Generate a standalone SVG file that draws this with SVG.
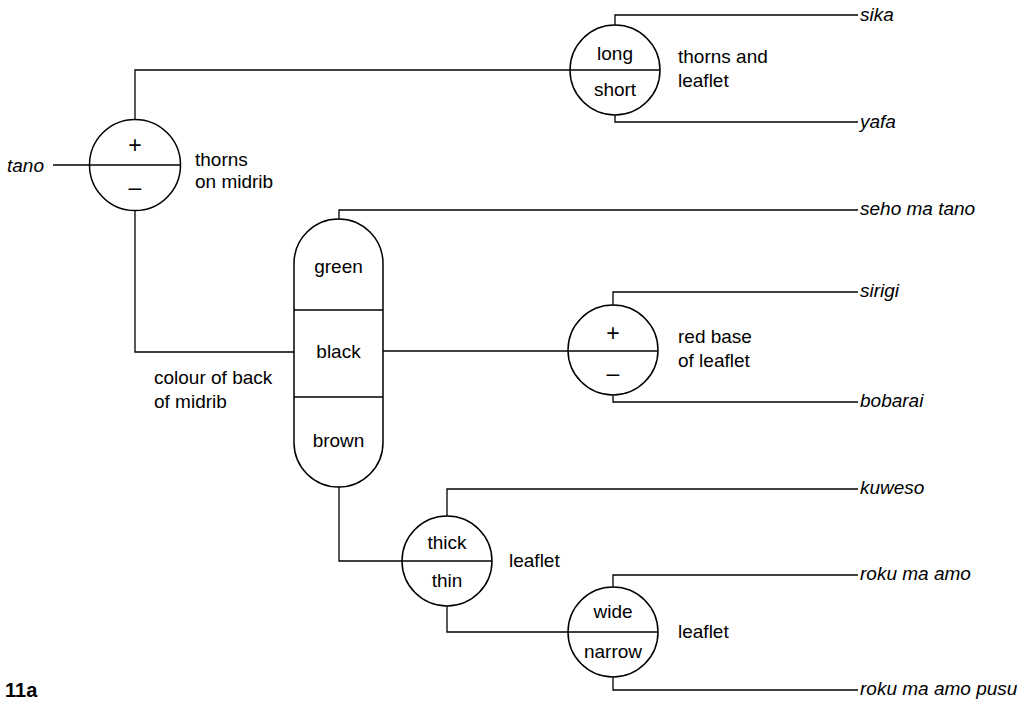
<svg xmlns="http://www.w3.org/2000/svg" width="1034" height="704" viewBox="0 0 1034 704">
<style>
.n{fill:none;stroke:#000;stroke-width:1.5}
.c{fill:none;stroke:#000;stroke-width:1.3}
text{font-family:"Liberation Sans",Arial,sans-serif;font-size:19px;fill:#000}
.m{text-anchor:middle}
.s{font-size:23px}
.i{font-style:italic}
.b{font-weight:bold;font-size:20px}
</style>
<rect width="1034" height="704" fill="#fff"/>
<g id="connectors">
<path class="c" d="M53,165 H89"/>
<path class="c" d="M135,120 V70 H570"/>
<path class="c" d="M135,210 V352 H294"/>
<path class="c" d="M339,219 V210 H858"/>
<path class="c" d="M383,351 H568"/>
<path class="c" d="M613,305 V292 H858"/>
<path class="c" d="M613,395 V402 H858"/>
<path class="c" d="M615,25 V15 H858"/>
<path class="c" d="M615,115 V122 H858"/>
<path class="c" d="M339,487 V561 H402"/>
<path class="c" d="M447,516 V489 H858"/>
<path class="c" d="M447,606 V632 H568"/>
<path class="c" d="M613,587 V575 H858"/>
<path class="c" d="M613,677 V690 H858"/>
</g>
<g id="tano">
<text x="7" y="172" class="i">tano</text>
</g>
<g id="n-thorns-midrib">
<circle class="n" cx="135" cy="165" r="45.5"/>
<path class="n" d="M89.5,165 H180.5"/>
<text x="135" y="153" class="m s">+</text>
<text x="135" y="195" class="m s">–</text>
<text x="195" y="166">thorns</text>
<text x="195" y="188">on midrib</text>
</g>
<g id="n-thorns-leaflet">
<circle class="n" cx="615" cy="70" r="45"/>
<path class="n" d="M570,70 H660"/>
<text x="615" y="60" class="m">long</text>
<text x="615" y="96" class="m">short</text>
<text x="678" y="63">thorns and</text>
<text x="678" y="87">leaflet</text>
</g>
<g id="n-colour">
<rect class="n" x="294" y="219" width="89" height="268" rx="44.5" ry="44.5"/>
<path class="n" d="M294,310 H383 M294,397 H383"/>
<text x="338.5" y="273" class="m">green</text>
<text x="338.5" y="358" class="m">black</text>
<text x="338.5" y="447" class="m">brown</text>
<text x="154" y="384">colour of back</text>
<text x="154" y="408">of midrib</text>
</g>
<g id="n-red-base">
<circle class="n" cx="613" cy="350" r="45"/>
<path class="n" d="M568,351 H658"/>
<text x="613" y="341" class="m s">+</text>
<text x="613" y="381" class="m s">–</text>
<text x="678" y="343">red base</text>
<text x="678" y="367">of leaflet</text>
</g>
<g id="n-thick">
<circle class="n" cx="447" cy="561" r="45"/>
<path class="n" d="M402,561 H492"/>
<text x="447" y="549" class="m">thick</text>
<text x="447" y="587" class="m">thin</text>
<text x="509" y="567">leaflet</text>
</g>
<g id="n-wide">
<circle class="n" cx="613" cy="632" r="45"/>
<path class="n" d="M568,632 H658"/>
<text x="613" y="618" class="m">wide</text>
<text x="613" y="658" class="m">narrow</text>
<text x="678" y="638">leaflet</text>
</g>
<g id="leaves">
<text x="860" y="21" class="i">sika</text>
<text x="860" y="128" class="i">yafa</text>
<text x="860" y="215" class="i">seho ma tano</text>
<text x="860" y="297" class="i">sirigi</text>
<text x="860" y="407" class="i">bobarai</text>
<text x="860" y="494" class="i">kuweso</text>
<text x="860" y="580" class="i">roku ma amo</text>
<text x="860" y="695" class="i">roku ma amo pusu</text>
</g>
<text x="5" y="697" class="b">11a</text>
</svg>
